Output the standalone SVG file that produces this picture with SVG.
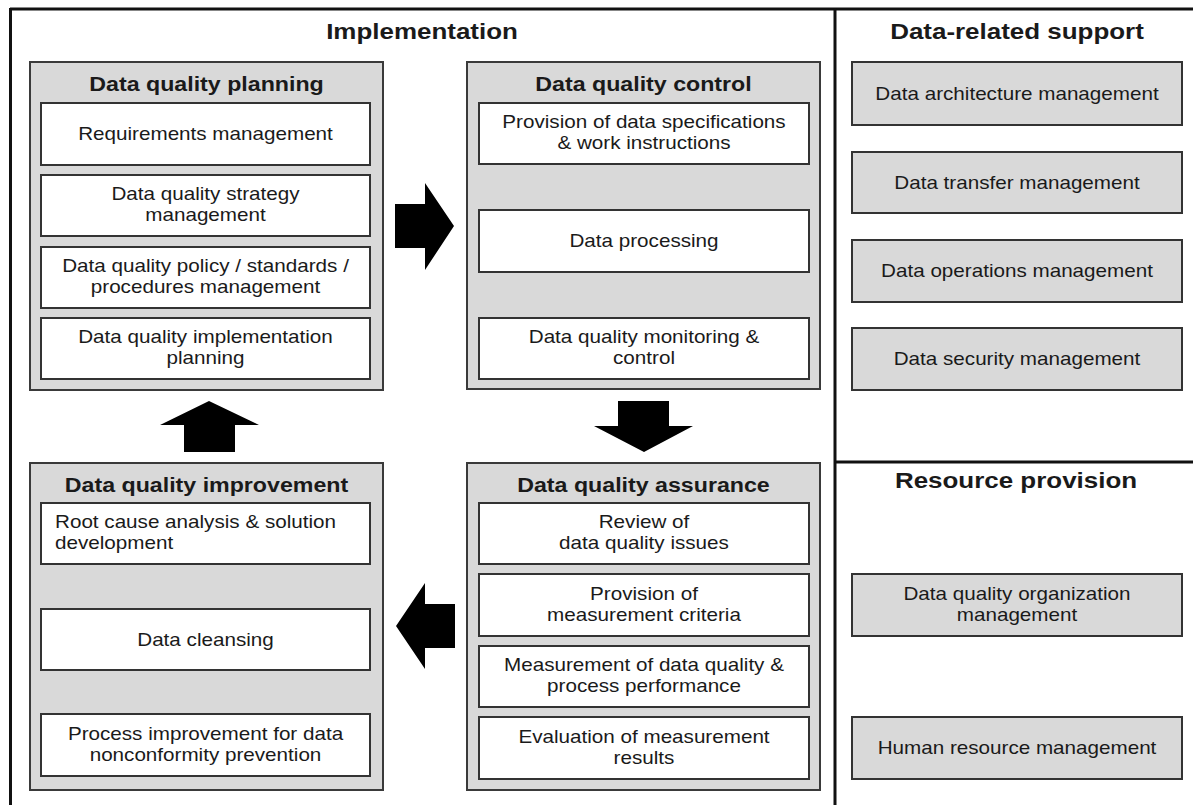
<svg xmlns="http://www.w3.org/2000/svg" width="1193" height="805" viewBox="0 0 1193 805">
<style>
.frame{stroke:#111;stroke-width:3;fill:none}
.outer{fill:#d9d9d9;stroke:#3a3a3a;stroke-width:2}
.inner{fill:#ffffff;stroke:#333;stroke-width:2}
.side{fill:#d9d9d9;stroke:#333;stroke-width:2}
.arrow{fill:#000}
text{font-family:"Liberation Sans",Arial,sans-serif;fill:#1a1a1a}
.t{font-size:17.5px;text-anchor:middle}
.tl{font-size:17.5px;text-anchor:start}
.h{font-size:20px;font-weight:bold;text-anchor:middle}
.s{font-size:22px;font-weight:bold;text-anchor:middle}
</style>
<rect width="1193" height="805" fill="#ffffff"/>
<g id="frame">
<line class="frame" x1="10" y1="9" x2="1193" y2="9"/>
<line class="frame" x1="10.5" y1="8" x2="10.5" y2="805"/>
<line class="frame" x1="835" y1="8" x2="835" y2="805"/>
<line class="frame" x1="835" y1="462" x2="1193" y2="462"/>
<text class="s" transform="translate(422,39) scale(1.18 1)">Implementation</text>
<text class="s" transform="translate(1017,39) scale(1.18 1)">Data-related support</text>
<text class="s" transform="translate(1016,488) scale(1.18 1)">Resource provision</text>
</g>
<g id="planning">
<rect class="outer" x="30" y="62" width="353" height="328"/>
<text class="h" transform="translate(206.5,91) scale(1.16 1)">Data quality planning</text>
<rect class="inner" x="41" y="103" width="329" height="62"/>
<text class="t" transform="translate(205.5,140) scale(1.18 1)">Requirements management</text>
<rect class="inner" x="41" y="175" width="329" height="61"/>
<text class="t" transform="translate(205.5,200) scale(1.18 1)"><tspan x="0" y="0">Data quality strategy</tspan><tspan x="0" y="21.5">management</tspan></text>
<rect class="inner" x="41" y="247" width="329" height="61"/>
<text class="t" transform="translate(205.5,272) scale(1.18 1)"><tspan x="0" y="0">Data quality policy / standards /</tspan><tspan x="0" y="21.5">procedures management</tspan></text>
<rect class="inner" x="41" y="318" width="329" height="61"/>
<text class="t" transform="translate(205.5,343) scale(1.18 1)"><tspan x="0" y="0">Data quality implementation</tspan><tspan x="0" y="21.5">planning</tspan></text>
</g>
<g id="control">
<rect class="outer" x="467" y="62" width="353" height="327"/>
<text class="h" transform="translate(643.5,91) scale(1.16 1)">Data quality control</text>
<rect class="inner" x="479" y="103" width="330" height="61"/>
<text class="t" transform="translate(644,128) scale(1.18 1)"><tspan x="0" y="0">Provision of data specifications</tspan><tspan x="0" y="21.5">&amp; work instructions</tspan></text>
<rect class="inner" x="479" y="210" width="330" height="62"/>
<text class="t" transform="translate(644,247) scale(1.18 1)">Data processing</text>
<rect class="inner" x="479" y="318" width="330" height="61"/>
<text class="t" transform="translate(644,343) scale(1.18 1)"><tspan x="0" y="0">Data quality monitoring &amp;</tspan><tspan x="0" y="21.5">control</tspan></text>
</g>
<g id="assurance">
<rect class="outer" x="467" y="463" width="353" height="327"/>
<text class="h" transform="translate(643.5,492) scale(1.16 1)">Data quality assurance</text>
<rect class="inner" x="479" y="503" width="330" height="61"/>
<text class="t" transform="translate(644,528) scale(1.18 1)"><tspan x="0" y="0">Review of</tspan><tspan x="0" y="21.5">data quality issues</tspan></text>
<rect class="inner" x="479" y="574" width="330" height="62"/>
<text class="t" transform="translate(644,599.5) scale(1.18 1)"><tspan x="0" y="0">Provision of</tspan><tspan x="0" y="21.5">measurement criteria</tspan></text>
<rect class="inner" x="479" y="646" width="330" height="61"/>
<text class="t" transform="translate(644,671) scale(1.18 1)"><tspan x="0" y="0">Measurement of data quality &amp;</tspan><tspan x="0" y="21.5">process performance</tspan></text>
<rect class="inner" x="479" y="717" width="330" height="62"/>
<text class="t" transform="translate(644,742.5) scale(1.18 1)"><tspan x="0" y="0">Evaluation of measurement</tspan><tspan x="0" y="21.5">results</tspan></text>
</g>
<g id="improvement">
<rect class="outer" x="30" y="463" width="353" height="327"/>
<text class="h" transform="translate(206.5,492) scale(1.16 1)">Data quality improvement</text>
<rect class="inner" x="41" y="503" width="329" height="61"/>
<text class="tl" transform="translate(55,528) scale(1.18 1)"><tspan x="0" y="0">Root cause analysis &amp; solution</tspan><tspan x="0" y="21.5">development</tspan></text>
<rect class="inner" x="41" y="609" width="329" height="61"/>
<text class="t" transform="translate(205.5,645.5) scale(1.18 1)">Data cleansing</text>
<rect class="inner" x="41" y="714" width="329" height="62"/>
<text class="t" transform="translate(205.5,739.5) scale(1.18 1)"><tspan x="0" y="0">Process improvement for data</tspan><tspan x="0" y="21.5">nonconformity prevention</tspan></text>
</g>
<g id="support">
<g id="arch"><rect class="side" x="852" y="62" width="330" height="63"/>
<text class="t" transform="translate(1017,99.5) scale(1.18 1)">Data architecture management</text></g>
<g id="transfer"><rect class="side" x="852" y="152" width="330" height="61"/>
<text class="t" transform="translate(1017,188.5) scale(1.18 1)">Data transfer management</text></g>
<g id="operations"><rect class="side" x="852" y="240" width="330" height="62"/>
<text class="t" transform="translate(1017,277) scale(1.18 1)">Data operations management</text></g>
<g id="security"><rect class="side" x="852" y="328" width="330" height="62"/>
<text class="t" transform="translate(1017,365) scale(1.18 1)">Data security management</text></g>
</g>
<g id="resources">
<g id="organization"><rect class="side" x="852" y="574" width="330" height="62"/>
<text class="t" transform="translate(1017,599.5) scale(1.18 1)"><tspan x="0" y="0">Data quality organization</tspan><tspan x="0" y="21.5">management</tspan></text></g>
<g id="hr"><rect class="side" x="852" y="717" width="330" height="62"/>
<text class="t" transform="translate(1017,754) scale(1.18 1)">Human resource management</text></g>
</g>
<g id="connectors">
<polygon class="arrow" points="395,204 425,204 425,183 454,226 425,270 425,248 395,248"/>
<polygon class="arrow" points="618,401 669,401 669,426 693,426 644,452 594,426 618,426"/>
<polygon class="arrow" points="455,604 425,604 425,583 396,626 425,669 425,648 455,648"/>
<polygon class="arrow" points="184,452 235,452 235,425 259,425 209,401 160,425 184,425"/>
</g>
</svg>
